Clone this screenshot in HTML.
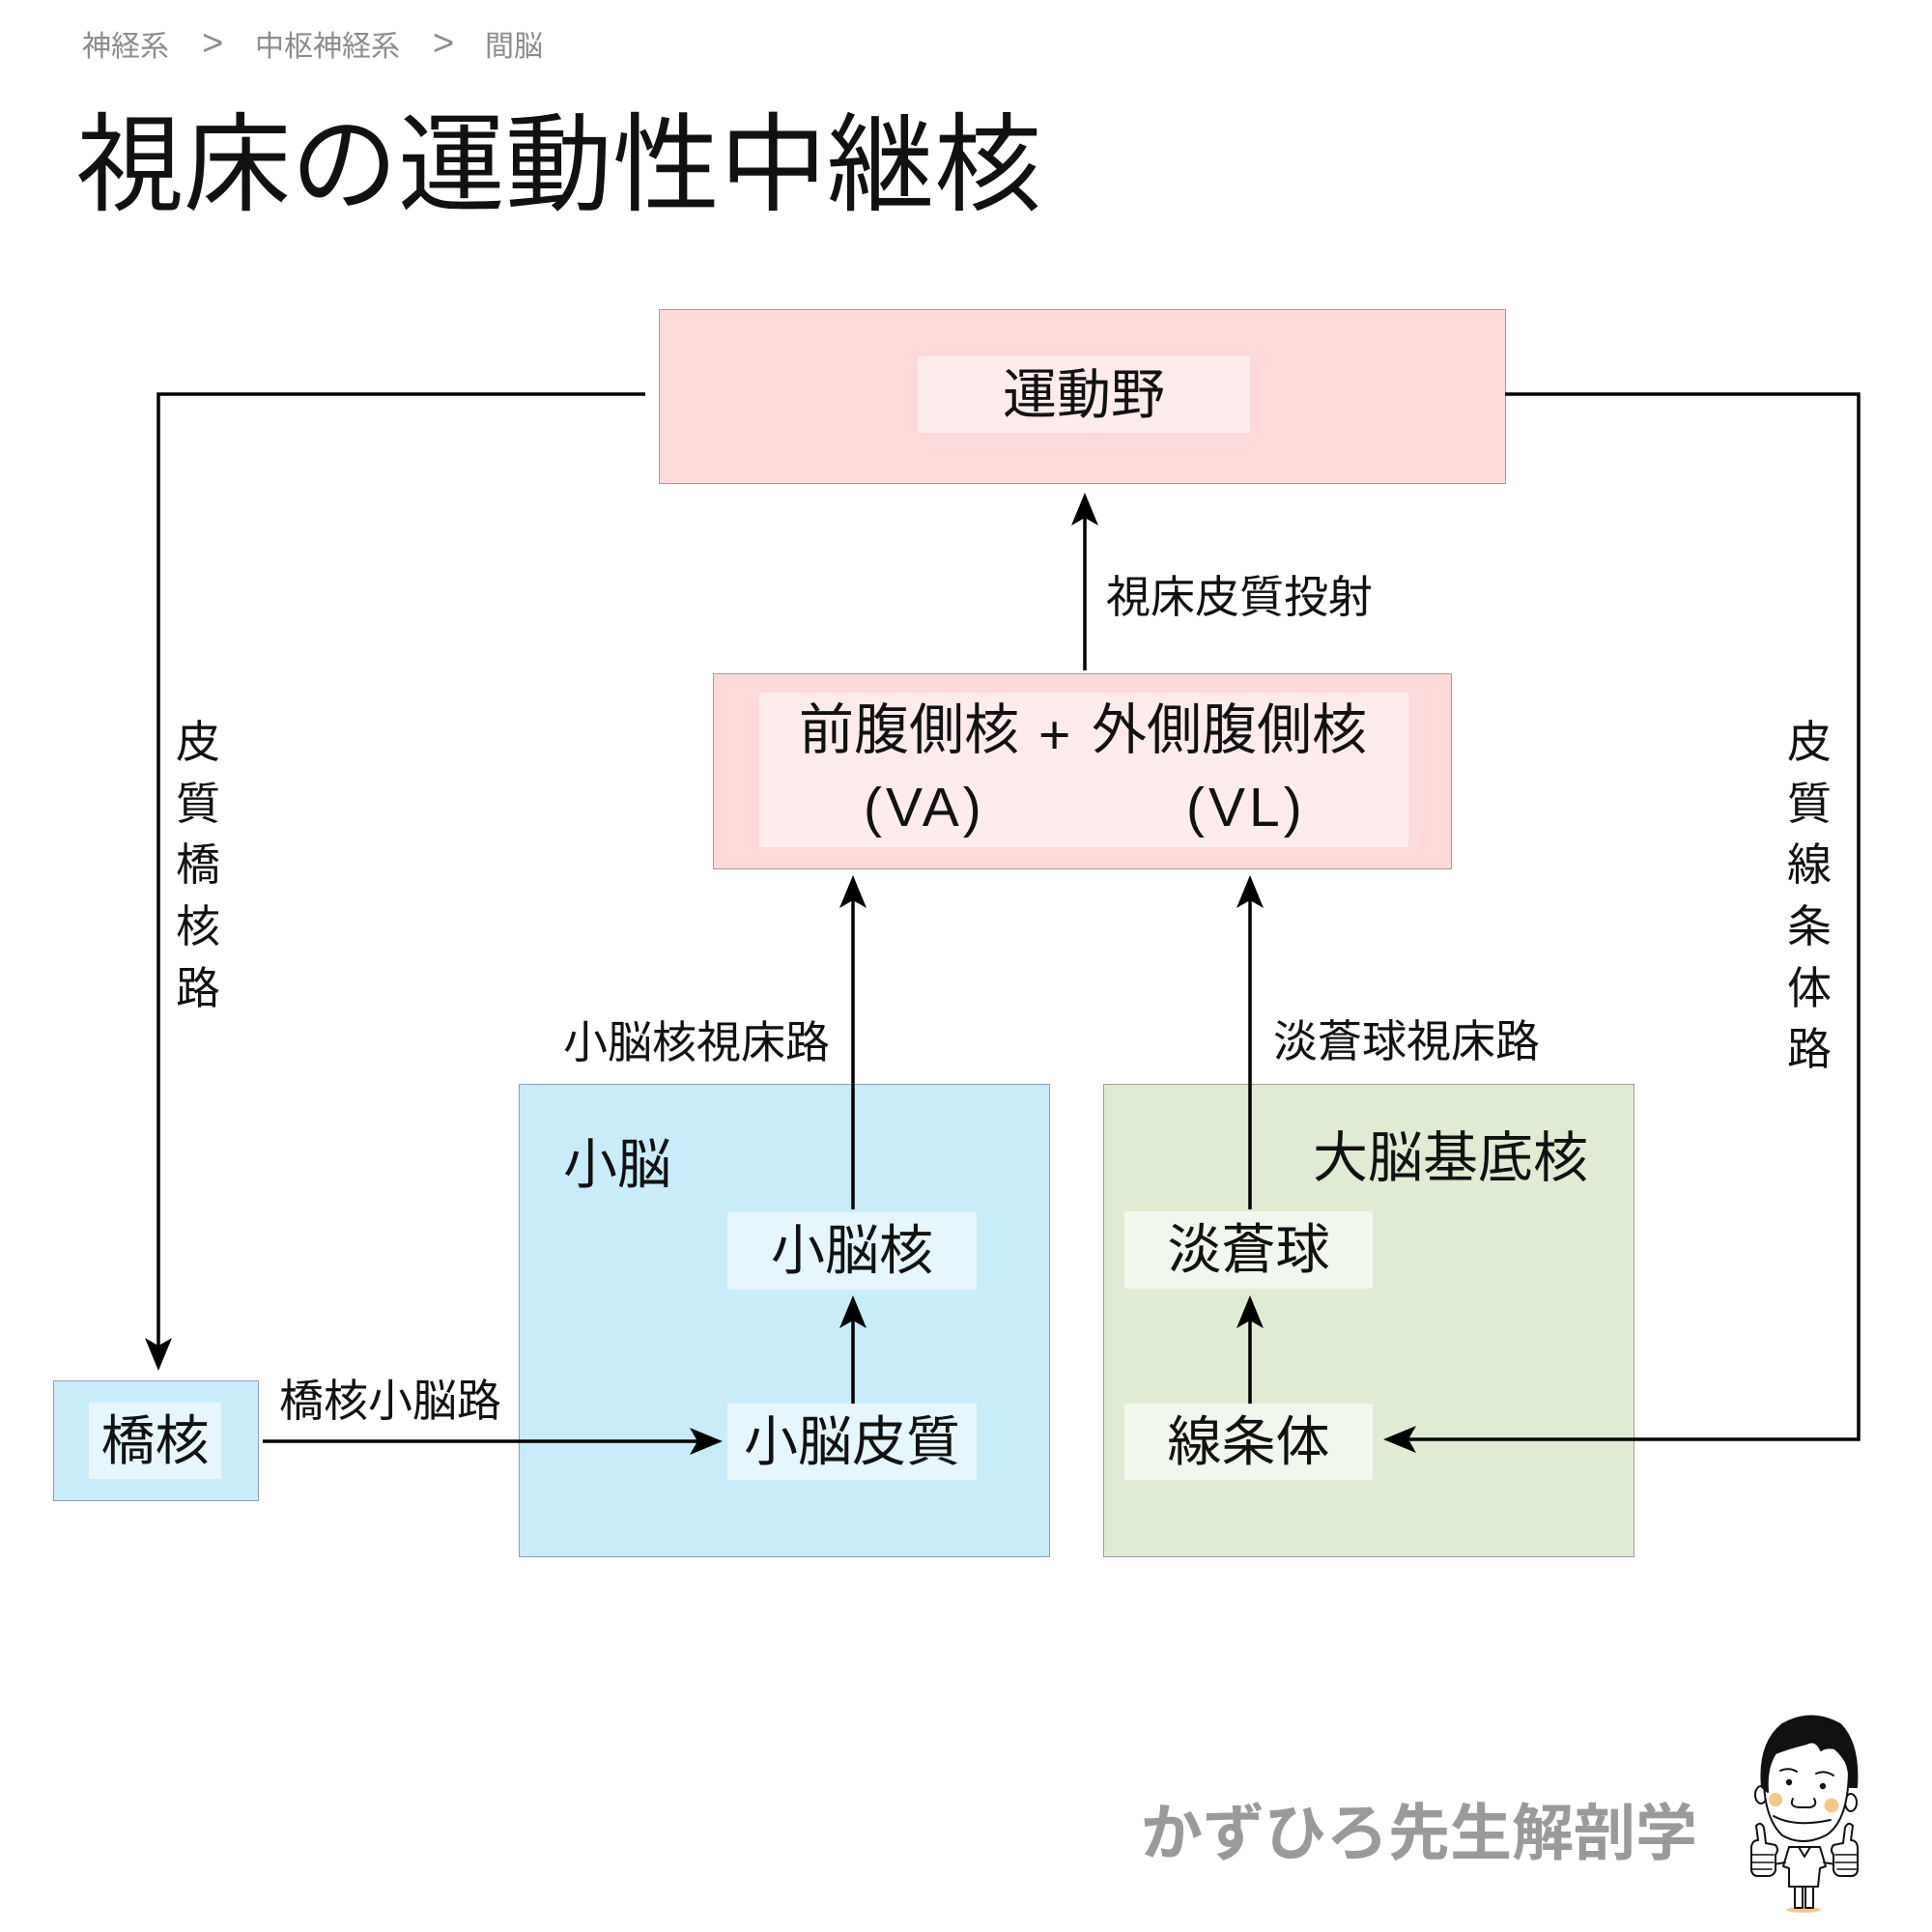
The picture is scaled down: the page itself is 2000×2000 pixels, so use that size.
<!DOCTYPE html>
<html lang="ja">
<head>
<meta charset="utf-8">
<style>
  html,body{margin:0;padding:0;background:#fff;}
  body{width:2000px;height:2000px;position:relative;overflow:hidden;
       font-family:"Liberation Sans","Noto Sans CJK JP",sans-serif;color:#111;}
  .t{position:absolute;white-space:nowrap;line-height:1;}
  .box{position:absolute;box-sizing:border-box;}
  .in{position:absolute;box-sizing:border-box;display:flex;align-items:center;justify-content:center;
      font-size:56px;line-height:1;white-space:nowrap;}
  .bc{font-size:30px;color:#8c8c8c;top:34px;}
  .gt{font-size:38px;color:#8c8c8c;top:26px;}
  .lab{font-size:46px;}
  .v{position:absolute;font-size:46px;line-height:1;width:46px;text-align:center;}
</style>
</head>
<body>

<!-- breadcrumb -->
<div class="t bc" style="left:85px;">神経系</div>
<div class="t gt" style="left:209px;">&gt;</div>
<div class="t bc" style="left:264px;">中枢神経系</div>
<div class="t gt" style="left:448px;">&gt;</div>
<div class="t bc" style="left:502px;">間脳</div>

<!-- title -->
<div class="t" style="left:79px;top:116px;font-size:111px;">視床の運動性中継核</div>

<!-- 運動野 -->
<div class="box" style="left:682px;top:320px;width:877px;height:181px;background:#fdd9d9;border:1.5px solid #a89c9c;"></div>
<div class="in" style="left:950px;top:369px;width:344px;height:79px;background:#feeced;">運動野</div>

<!-- VA/VL -->
<div class="box" style="left:738px;top:697px;width:765px;height:203px;background:#fdd9d9;border:1.5px solid #a89c9c;"></div>
<div class="box" style="left:786px;top:717px;width:672px;height:160px;background:#feeced;"></div>
<div class="t" style="left:827px;top:728px;font-size:57px;">前腹側核</div>
<div class="t" style="left:1075px;top:733px;font-size:57px;">+</div>
<div class="t" style="left:1130px;top:728px;font-size:57px;">外側腹側核</div>
<div class="t" style="left:894px;top:808px;font-size:57px;letter-spacing:4px;">(VA)</div>
<div class="t" style="left:1228px;top:808px;font-size:57px;letter-spacing:4px;">(VL)</div>

<!-- 小脳 -->
<div class="box" style="left:537px;top:1122px;width:550px;height:490px;background:#c9ecfb;border:1.5px solid #8fa0ad;"></div>
<div class="t" style="left:583px;top:1178px;font-size:56px;">小脳</div>
<div class="in" style="left:753px;top:1255px;width:258px;height:80px;background:#e6f6fd;">小脳核</div>
<div class="in" style="left:753px;top:1453px;width:258px;height:79px;background:#e6f6fd;">小脳皮質</div>

<!-- 大脳基底核 -->
<div class="box" style="left:1142px;top:1122px;width:550px;height:490px;background:#e0ebd3;border:1.5px solid #9a9a9a;"></div>
<div class="t" style="left:1359px;top:1171px;font-size:57px;">大脳基底核</div>
<div class="in" style="left:1164px;top:1254px;width:257px;height:80px;background:#f2f7ee;">淡蒼球</div>
<div class="in" style="left:1164px;top:1453px;width:257px;height:79px;background:#f2f7ee;">線条体</div>

<!-- 橋核 -->
<div class="box" style="left:55px;top:1429px;width:213px;height:125px;background:#c9ecfb;border:1.5px solid #8fa0ad;"></div>
<div class="in" style="left:92px;top:1452px;width:137px;height:79px;background:#e6f6fd;">橋核</div>

<!-- connector labels -->
<div class="t lab" style="left:1145px;top:595px;">視床皮質投射</div>
<div class="t lab" style="left:583px;top:1056px;">小脳核視床路</div>
<div class="t lab" style="left:1318px;top:1055px;">淡蒼球視床路</div>
<div class="t lab" style="left:289px;top:1427px;">橋核小脳路</div>

<!-- vertical labels left -->
<div class="v" style="left:182px;top:745px;">皮</div>
<div class="v" style="left:182px;top:809px;">質</div>
<div class="v" style="left:182px;top:872px;">橋</div>
<div class="v" style="left:182px;top:936px;">核</div>
<div class="v" style="left:182px;top:1000px;">路</div>

<!-- vertical labels right -->
<div class="v" style="left:1850px;top:745px;">皮</div>
<div class="v" style="left:1850px;top:809px;">質</div>
<div class="v" style="left:1850px;top:872px;">線</div>
<div class="v" style="left:1850px;top:936px;">条</div>
<div class="v" style="left:1850px;top:1000px;">体</div>
<div class="v" style="left:1850px;top:1063px;">路</div>

<!-- connectors -->
<svg width="2000" height="2000" style="position:absolute;left:0;top:0;" xmlns="http://www.w3.org/2000/svg">
  <g fill="none" stroke="#000" stroke-width="3.5" stroke-linejoin="miter">
    <polyline points="668,408 164,408 164,1393"/>
    <polyline points="1558,408 1924,408 1924,1490 1458,1490"/>
    <line x1="272" y1="1492" x2="722" y2="1492"/>
    <line x1="1123" y1="694" x2="1123" y2="536"/>
    <line x1="883" y1="1252" x2="883" y2="932"/>
    <line x1="1294" y1="1252" x2="1294" y2="932"/>
    <line x1="883" y1="1453" x2="883" y2="1367"/>
    <line x1="1294" y1="1453" x2="1294" y2="1367"/>
  </g>
  <g fill="#000">
    <path d="M164,1419 L150,1385 L164,1393 L178,1385 Z"/>
    <path d="M1432,1490 L1466,1476 L1458,1490 L1466,1504 Z"/>
    <path d="M748,1492 L714,1478 L722,1492 L714,1506 Z"/>
    <path d="M1123,510 L1109,544 L1123,536 L1137,544 Z"/>
    <path d="M883,906 L869,940 L883,932 L897,940 Z"/>
    <path d="M1294,906 L1280,940 L1294,932 L1308,940 Z"/>
    <path d="M883,1341 L869,1375 L883,1367 L897,1375 Z"/>
    <path d="M1294,1341 L1280,1375 L1294,1367 L1308,1375 Z"/>
  </g>

  <!-- mascot illustration -->
  <g stroke="#111" stroke-width="2" stroke-linecap="round" stroke-linejoin="round">
    <ellipse cx="1867" cy="1977" rx="18" ry="3" fill="#f5c88a" stroke="none"/>
    <path d="M1858,1950 L1858,1975 L1866,1975 L1866,1950 Z" fill="#fff"/>
    <path d="M1869,1950 L1869,1975 L1877,1975 L1877,1950 Z" fill="#fff"/>
    <path d="M1852,1912 L1884,1912 L1890,1932 L1884,1934 L1882,1953 L1852,1953 L1852,1934 L1846,1932 Z" fill="#fff"/>
    <path d="M1862,1912 L1868,1922 L1874,1912" fill="none"/>
    <path d="M1848,1928 L1836,1930" fill="none"/>
    <path d="M1888,1928 L1900,1930" fill="none"/>
    <path d="M1818,1890 Q1823,1885 1826,1892 L1828,1908 L1838,1910 Q1842,1915 1838,1920 L1838,1936 Q1836,1943 1828,1942 L1818,1942 Q1812,1940 1813,1932 L1813,1912 Q1814,1905 1820,1905 Z" fill="#fff"/>
    <path d="M1813,1920 L1836,1920 M1813,1928 L1836,1928 M1813,1935 L1834,1935" fill="none" stroke-width="1.5"/>
    <path d="M1918,1890 Q1913,1885 1910,1892 L1908,1908 L1898,1910 Q1894,1915 1898,1920 L1898,1936 Q1900,1943 1908,1942 L1918,1942 Q1924,1940 1923,1932 L1923,1912 Q1922,1905 1916,1905 Z" fill="#fff"/>
    <path d="M1900,1920 L1923,1920 M1900,1928 L1923,1928 M1902,1935 L1923,1935" fill="none" stroke-width="1.5"/>
    <ellipse cx="1823" cy="1858" rx="6" ry="9" fill="#fff"/>
    <ellipse cx="1916" cy="1866" rx="6" ry="9" fill="#fff"/>
    <path d="M1826,1830 Q1824,1880 1845,1900 Q1866,1912 1890,1900 Q1914,1885 1914,1830 Q1900,1800 1870,1800 Q1836,1802 1826,1830 Z" fill="#fff"/>
    <path d="M1824,1850 Q1820,1805 1845,1785 Q1875,1768 1905,1785 Q1925,1805 1922,1850 L1915,1850 Q1915,1820 1900,1810 Q1890,1808 1885,1812 Q1880,1800 1870,1805 Q1850,1810 1838,1815 Q1828,1830 1830,1855 Z" fill="#111"/>
    <circle cx="1838" cy="1863" r="7" fill="#f5c88a" stroke="none"/>
    <circle cx="1896" cy="1869" r="7.5" fill="#f5c88a" stroke="none"/>
    <path d="M1843,1833 Q1852,1829 1860,1834" fill="none"/>
    <path d="M1880,1836 Q1889,1832 1898,1838" fill="none"/>
    <circle cx="1852" cy="1845" r="2.2" fill="#111"/>
    <circle cx="1887" cy="1849" r="2.2" fill="#111"/>
    <path d="M1856,1862 Q1852,1870 1862,1871 L1874,1871 Q1882,1869 1878,1862" fill="none"/>
    <path d="M1836,1880 Q1858,1892 1895,1884" fill="none"/>
  </g>
</svg>

<!-- footer -->
<div class="t" style="left:1181px;top:1866px;font-size:64px;font-weight:700;color:#9a9a9a;">かずひろ先生解剖学</div>

</body>
</html>
